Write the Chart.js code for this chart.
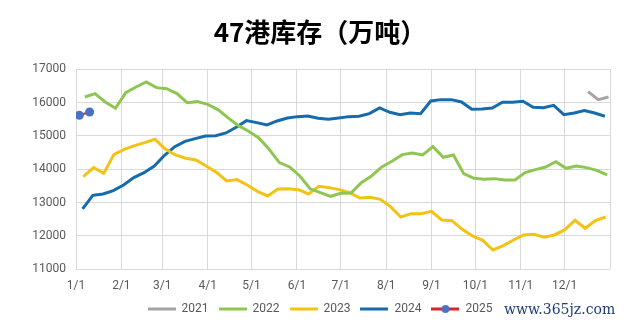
<!DOCTYPE html>
<html>
<head>
<meta charset="utf-8">
<script src="https://cdn.jsdelivr.net/npm/chart.js@4/dist/chart.umd.min.js"></script>
<style>
    html, body { margin: 0; padding: 0; background: #fff; }
    .wrap { position: relative; width: 640px; height: 325px; }
    #chart { display: block; }
    .mark {
        position: absolute; left: 504px; top: 301px;
        font: 14px "DejaVu Serif", "Liberation Serif", serif;
        color: #1d3d7a;
    }
</style>
</head>
<body>
<div class="wrap">
    <canvas id="chart" width="640" height="325"></canvas>
    <span class="mark">www.365jz.com</span>
</div>
<script>
// Axis
const monthDays = [0, 31, 59, 90, 120, 151, 181, 212, 243, 273, 304, 334, 365];
const monthLabels = ['1/1', '2/1', '3/1', '4/1', '5/1', '6/1', '7/1', '8/1', '9/1', '10/1', '11/1', '12/1', ''];
const yTicks = [11000, 12000, 13000, 14000, 15000, 16000, 17000];

// Weekly readings (day of year of first reading, then one value per week)
const start2021 = 350;
const v2021 = [16330, 16090, 16170];

const start2022 = 6;
const v2022 = [16170, 16270, 16020, 15830, 16300, 16470, 16620, 16450, 16420, 16270, 16000, 16030, 15950,
    15790, 15545, 15310, 15140, 14940, 14600, 14200, 14070, 13800, 13415, 13300, 13190, 13280,
    13290, 13600, 13800, 14070, 14240, 14440, 14490, 14430, 14680, 14360, 14430, 13870, 13730,
    13700, 13720, 13680, 13680, 13900, 13990, 14070, 14230, 14030, 14100, 14050, 13970, 13830];

const start2023 = 5;
const v2023 = [13780, 14050, 13880, 14450, 14600, 14710, 14800, 14900, 14610, 14430, 14330, 14280, 14100,
    13910, 13650, 13690, 13530, 13340, 13200, 13410, 13420, 13390, 13260, 13490, 13450, 13390,
    13300, 13140, 13160, 13100, 12880, 12570, 12670, 12670, 12740, 12480, 12460, 12200, 12000,
    11870, 11580, 11710, 11880, 12030, 12050, 11960, 12030, 12180, 12470, 12230, 12460, 12570];

const start2024 = 4.5;
const v2024 = [12810, 13220, 13260, 13360, 13530, 13750, 13900, 14100, 14420, 14680, 14840, 14920, 15000,
    15010, 15090, 15260, 15460, 15400, 15330, 15450, 15540, 15580, 15600, 15530, 15500, 15540,
    15580, 15590, 15670, 15840, 15710, 15640, 15690, 15670, 16050, 16090, 16090, 16020, 15800,
    15810, 15840, 16010, 16010, 16040, 15860, 15850, 15920, 15640, 15690, 15760, 15690, 15590];

const start2025 = 2.3;
const v2025 = [15620, 15720];

const toPoints = (start, vals) => vals.map((v, i) => ({ x: start + i * 7, y: v }));

// Legend swatch: short line, optional dot in the middle
function swatch(color, dot) {
    const c = document.createElement('canvas');
    c.width = 28; c.height = 10;
    const g = c.getContext('2d');
    g.strokeStyle = color;
    g.lineWidth = 3;
    g.beginPath(); g.moveTo(0, 5); g.lineTo(28, 5); g.stroke();
    if (dot) {
        g.fillStyle = dot;
        g.beginPath(); g.arc(14, 5, 4, 0, Math.PI * 2); g.fill();
    }
    return c;
}

const line = (label, color, data, extra) => Object.assign({
    label, data,
    borderColor: color,
    backgroundColor: color,
    borderWidth: 3,
    pointRadius: 0,
    tension: 0,
    swatch: swatch(color)
}, extra || {});

const datasets = [
    line('2021', '#a5a5a5', toPoints(start2021, v2021)),
    line('2022', '#8fc651', toPoints(start2022, v2022)),
    line('2023', '#f4c214', toPoints(start2023, v2023)),
    line('2024', '#156bab', toPoints(start2024, v2024)),
    line('2025', '#d8232a', toPoints(start2025, v2025), {
        borderWidth: 2,
        pointRadius: 4.5,
        pointBackgroundColor: '#4a72c4',
        pointBorderColor: '#4a72c4',
        pointBorderWidth: 0,
        swatch: swatch('#d8232a', '#4a72c4')
    })
];

const tickFont = { family: 'Roboto, "Noto Sans", sans-serif', size: 12 };

new Chart(document.getElementById('chart'), {
    type: 'line',
    data: { datasets },
    options: {
        responsive: false,
        animation: false,
        layout: { padding: 0 },
        plugins: {
            title: {
                display: true,
                text: '47港库存（万吨）',
                color: '#000',
                font: { family: '"Noto Sans CJK SC", sans-serif', size: 26, weight: 'bold' },
                padding: { top: 17, bottom: 21.1 }
            },
            legend: {
                position: 'bottom',
                labels: {
                    usePointStyle: true,
                    pointStyleWidth: 28,
                    padding: 10,
                    color: '#595959',
                    font: tickFont,
                    generateLabels: chart => chart.data.datasets.map((ds, i) => ({
                        text: ds.label,
                        pointStyle: ds.swatch,
                        fontColor: '#595959',
                        lineWidth: 0,
                        strokeStyle: 'transparent',
                        fillStyle: 'transparent',
                        datasetIndex: i
                    }))
                }
            },
            tooltip: { enabled: false }
        },
        scales: {
            x: {
                type: 'linear',
                min: 0,
                max: 365,
                afterBuildTicks: s => { s.ticks = monthDays.map(v => ({ value: v })); },
                afterFit: s => { s.height = 23.7; },
                ticks: {
                    autoSkip: false,
                    maxRotation: 0,
                    padding: 9,
                    color: '#595959',
                    font: tickFont,
                    callback: (v, i) => monthLabels[i]
                },
                grid: { color: '#d9d9d9', drawTicks: false },
                border: { display: false }
            },
            y: {
                min: 11000,
                max: 17000,
                afterBuildTicks: s => { s.ticks = yTicks.map(v => ({ value: v })); },
                afterFit: s => { s.width = 76; },
                ticks: {
                    padding: 10,
                    color: '#595959',
                    font: tickFont,
                    callback: v => v
                },
                grid: { color: '#d9d9d9', drawTicks: false },
                border: { display: false }
            },
            // empty strip on the right so the title and legend stay centred on the page
            right: {
                position: 'right',
                min: 0,
                max: 1,
                afterFit: s => { s.width = 30; },
                ticks: { display: false },
                grid: { display: false },
                border: { display: false }
            }
        }
    }
});
</script>
</body>
</html>
